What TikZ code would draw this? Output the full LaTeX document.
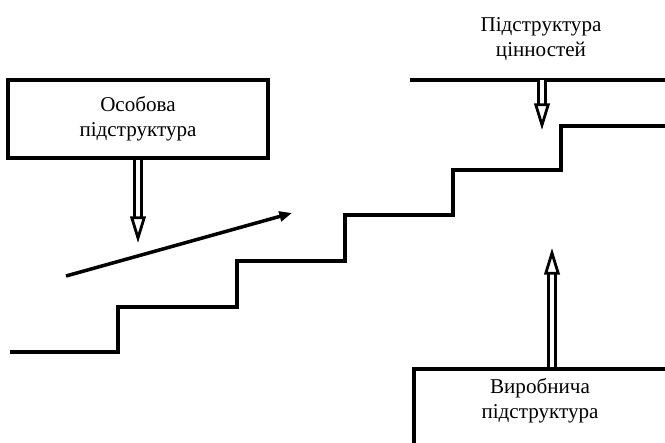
\documentclass[tikz,border=0pt]{standalone}
\usepackage{fontspec}
\setmainfont{Liberation Serif}
\usepackage{tikz}
\usetikzlibrary{positioning,arrows.meta}
\tikzset{
  basic/.style   = {draw, line width=2.5pt, rectangle, align=center,
                    font=\fontsize{15}{17.5}\selectfont},
  caption/.style = {align=center, font=\fontsize{15}{17.5}\selectfont},
  stair/.style   = {line width=2.5pt, line join=miter},
  pile/.style    = {double, line width=2pt, double distance=3pt,
                    -{Triangle[open, length=19pt, width=11pt]}},
  rise/.style    = {line width=2.5pt, -{Triangle[length=9pt, width=7pt]}}
}

\begin{document}
\begin{tikzpicture}[x=0.025cm, y=-0.025cm]
  \useasboundingbox (0,0) rectangle (665,442);
  \clip (0,0) rectangle (665,442);
  % boxes and labels
  \node[basic, minimum width=6.5cm, minimum height=1.95cm] (osob) at (138,119) {Особова\\підструктура};
  \node[basic, minimum width=6.4cm, minimum height=2.5cm, anchor=north west] (vyr) at (412,367) {};
  \node[caption] (vyrt) at (540,401) {Виробнича\\підструктура};
  \node[caption] (cinn) at (541,39) {Підструктура\\цінностей};
  \coordinate (cl) at (410,80);
  \coordinate (cr) at (668,80);
  \draw[stair] (cl) -- (cr);
  % stairs
  \draw[stair] (10,352) -| (118,307) -| (237,261) -| (345,215) -| (453,170) -| (561,126) -- (668,126);
  % arrows
  \coordinate (t1) at (138,243);
  \draw[pile] (osob.south) -- (t1);
  \coordinate (t2a) at (542,80);
  \coordinate (t2) at (542,130);
  \draw[pile] (t2a) -- (t2);
  \coordinate (t3a) at (552,367);
  \coordinate (t3) at (552,248);
  \draw[pile] (t3a) -- (t3);
  \coordinate (d1) at (66,276);
  \coordinate (d2) at (292,213);
  \draw[rise] (d1) -- (d2);
\end{tikzpicture}
\end{document}
